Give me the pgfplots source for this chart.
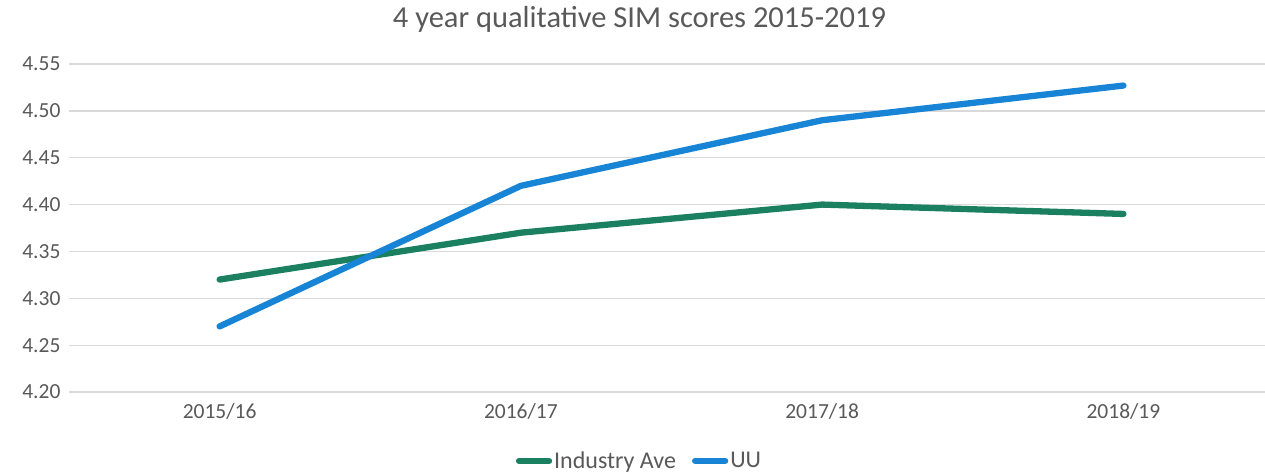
\documentclass[border=0pt]{standalone}
\usepackage{pgfplots}
\pgfplotsset{compat=1.18}
\usepackage{fontspec}
\setmainfont{Carlito}
\definecolor{indgreen}{HTML}{1A8060}
\definecolor{uublue}{HTML}{1884D6}
\definecolor{txtgray}{HTML}{595959}
\definecolor{gridgray}{HTML}{D9D9D9}

\begin{document}
\begin{tikzpicture}[x=1pt,y=1pt]
\useasboundingbox (-69,-83) rectangle (1196,392);
\begin{axis}[
    at={(0,0)}, anchor=south west,
    scale only axis,
    width=1196pt, height=328pt,
    xmin=-0.5, xmax=3.47,
    ymin=4.20, ymax=4.55,
    ytick={4.20,4.25,...,4.56},
    xtick={0,1,2,3},
    xticklabels={2015/16,2016/17,2017/18,2018/19},
    /pgf/number format/fixed,
    /pgf/number format/fixed zerofill,
    /pgf/number format/precision=2,
    /pgf/number format/assume math mode=true,
    ymajorgrids,
    grid style={gridgray, line width=1.3pt},
    axis line style={draw=none},
    major tick length=0pt,
    tick label style={font=\fontsize{21.5}{24}\selectfont, text=txtgray},
    yticklabel style={xshift=-5pt},
    xticklabel style={yshift=-8pt},
    title={4 year qualitative SIM scores 2015-2019},
    title style={font=\fontsize{30.5}{34}\selectfont, text=txtgray, at={(0.477,1)}, yshift=22pt, anchor=south},
    legend style={draw=none, at={(0.477,-0.21)}, anchor=center, legend columns=2,
        font=\fontsize{24}{26}\selectfont, text=txtgray, inner sep=0pt,
        /tikz/every even column/.append style={column sep=14pt}},
    legend image code/.code={\draw[#1, line cap=round] (0pt,0pt) -- (30pt,0pt);},
    clip=false,
]
\addplot[indgreen, line width=6.3pt, line cap=round, line join=round] coordinates {
    (0, 4.32) (1, 4.37) (2, 4.40) (3, 4.39)
};
\addplot[uublue, line width=6.3pt, line cap=round, line join=round] coordinates {
    (0, 4.27) (1, 4.42) (2, 4.49) (3, 4.527)
};
\legend{Industry Ave, UU}
\end{axis}
\end{tikzpicture}
\end{document}
